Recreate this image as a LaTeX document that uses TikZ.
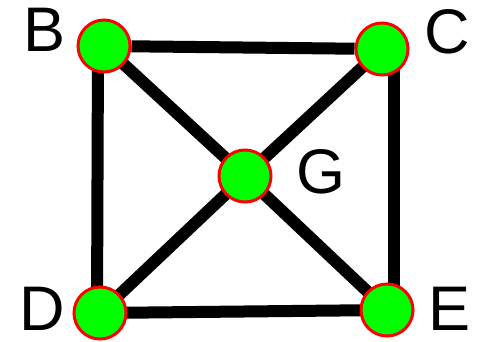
\documentclass[tikz,border=0pt]{standalone}
\usepackage{fontspec}
\setmainfont{Liberation Sans}
\usepackage{xcolor}
\usetikzlibrary{positioning,backgrounds}
\definecolor{VertexGreen}{RGB}{0,255,0}
\definecolor{VertexRed}{RGB}{255,0,0}

\begin{document}
\begin{tikzpicture}[
x=1pt,y=-1pt,
vertex/.style={
circle,
draw=VertexRed,
fill=VertexGreen,
line width=3pt,
minimum size=52pt,
inner sep=0pt
},
edge/.style={
draw=black,
line width=12pt
},
vlabel/.style={
inner sep=0pt,
font=\fontsize{63}{63}\selectfont
}
]

\node[vertex] (B) at (104,46) {};
\node[vertex] (C) at (382,49) {};
\node[vertex] (G) at (245,176) {};
\node[vertex] (D) at (100,313) {};
\node[vertex] (E) at (387,310) {};

% edges go behind the vertices
\begin{pgfonlayer}{background}
\fill[white] (0,0) rectangle (477,341);
\draw[edge] (B) -- (C);
\draw[edge] ([xshift=-6pt]B.center) -- ([xshift=-3pt]D.center);
\draw[edge] ([xshift=12pt]C.center) -- ([xshift=7pt]E.center);
\draw[edge] (D.center) -- (E.center);
\draw[edge] (B.center) -- (G.center) -- (E.center);
\draw[edge] (C.center) -- (G.center) -- (D.center);
\end{pgfonlayer}

\node[vlabel] (lB) at (45,30) {B};
\node[vlabel] (lC) at (447,32) {C};
\node[vlabel] (lG) at (321,172) {G};
\node[vlabel] (lD) at (42,309) {D};
\node[vlabel] (lE) at (450,309) {E};

\useasboundingbox (0,0) rectangle (477,341);

\end{tikzpicture}
\end{document}
